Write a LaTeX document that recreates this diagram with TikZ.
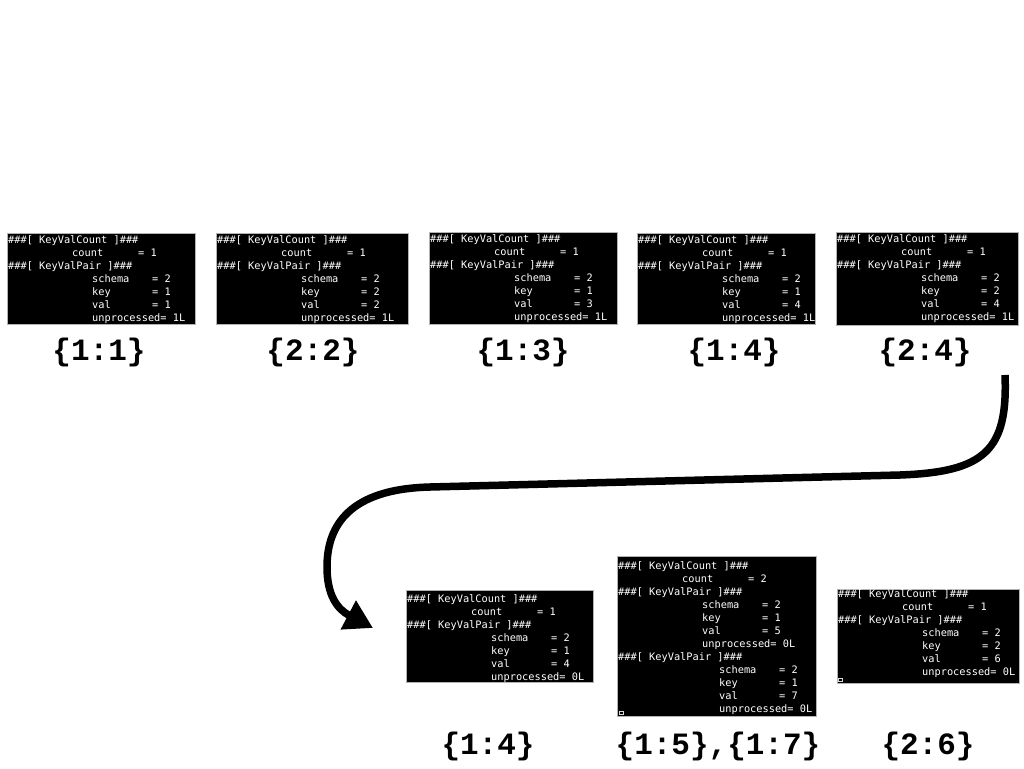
\documentclass[tikz,border=0pt]{standalone}
\usepackage{fontspec}
\usetikzlibrary{arrows.meta}
\newfontfamily\termfont{DejaVu Sans Mono}
\newfontfamily\lblfont{Liberation Mono}
\newcommand\bpos[3]{\def\bx{#1}\def\by{#2}\def\cc{#3}}
\newcommand\tline[3]{\node[tt] (#1-#2) at ({\bx+1},{\by+\cc+13*#2+4}) {#3};}
\newcommand\fld[4]{\makebox[#3pt][l]{\hspace*{#1pt}#2}#4}
\newcommand\tbox[5]{\node[termbox, minimum width=#4pt, minimum height=#5pt] (#1) at (#2,#3) {};}
\newcommand\rec[6]{%
  \tline{#1}{0}{\#\#\#[ KeyValCount ]\#\#\#}
  \tline{#1}{1}{\fld{64}{count}{130}{= #2}}
  \tline{#1}{2}{\#\#\#[ KeyValPair ]\#\#\#}
  \tline{#1}{3}{\fld{84}{schema}{144}{= #3}}
  \tline{#1}{4}{\fld{84}{key}{144}{= #4}}
  \tline{#1}{5}{\fld{84}{val}{144}{= #5}}
  \tline{#1}{6}{\hspace*{84pt}unprocessed= #6}}
\begin{document}
\begin{tikzpicture}[x=1pt,y=-1pt,
  termbox/.style={draw=gray!60, line width=0.8pt, fill=black, inner sep=0pt, anchor=north west},
  tt/.style={font=\termfont\fontsize{10.3}{12}\selectfont, text=white, inner sep=0pt, anchor=base west},
  lbl/.style={font=\lblfont\bfseries\fontsize{31}{36}\selectfont, inner sep=0pt, anchor=base},
  cursor/.style={draw=white!85!black, line width=0.6pt, minimum width=4pt, minimum height=3pt, inner sep=0pt},
  flow/.style={line width=7.5pt, -{Triangle[length=28pt,width=31pt]}}]
\fill[white] (0,0) rectangle (1024,768);
\useasboundingbox (0,0) rectangle (1024,768);

% top row
\tbox{b1}{7}{233}{188}{91}
\bpos{7}{233}{6.5}\rec{b1}{1}{2}{1}{1}{1L}
\tbox{b2}{216}{233}{192}{91}
\bpos{216}{233}{6.5}\rec{b2}{1}{2}{2}{2}{1L}
\tbox{b3}{429}{232}{188}{92}
\bpos{429}{232}{6.5}\rec{b3}{1}{2}{1}{3}{1L}
\tbox{b4}{637}{233}{178}{91}
\bpos{637}{233}{6.5}\rec{b4}{1}{2}{1}{4}{1L}
\tbox{b5}{836}{232}{182}{93}
\bpos{836}{232}{6.5}\rec{b5}{1}{2}{2}{4}{1L}

\node[lbl] (l1) at (99,360) {\{1:1\}};
\node[lbl] (l2) at (313,360) {\{2:2\}};
\node[lbl] (l3) at (523,360) {\{1:3\}};
\node[lbl] (l4) at (734,360) {\{1:4\}};
\node[lbl] (l5) at (925,360) {\{2:4\}};

% bottom row
\tbox{bA}{406}{590}{187}{92}
\bpos{406}{590}{8}\rec{bA}{1}{2}{1}{4}{0L}
\tbox{bB}{617}{556}{199}{160}
\bpos{617}{556}{9}\rec{bB}{2}{2}{1}{5}{0L}
\tline{bB}{7}{\#\#\#[ KeyValPair ]\#\#\#}
\tline{bB}{8}{\fld{101}{schema}{161}{= 2}}
\tline{bB}{9}{\fld{101}{key}{161}{= 1}}
\tline{bB}{10}{\fld{101}{val}{161}{= 7}}
\tline{bB}{11}{\hspace*{101pt}unprocessed= 0L}
\node[cursor] (cB) at (621,713) {};
\tbox{bC}{837}{589}{182}{94}
\bpos{837}{589}{4}\rec{bC}{1}{2}{2}{6}{0L}
\node[cursor] (cC) at (840,680) {};

\node[lbl] (lA) at (488,754) {\{1:4\}};
\node[lbl] (lB) at (718,754) {\{1:5\},\{1:7\}};
\node[lbl] (lC) at (928,754) {\{2:6\}};

% flow arrow
\coordinate (aS) at (1005,375);
\coordinate (aE) at (373,628);
\draw[flow] (aS) .. controls (1008,450) and (985,472) .. (900,475)
  -- (430,487) .. controls (350,489) and (327,525) .. (327,567)
  .. controls (327,595) and (337,609) .. (aE);
\end{tikzpicture}
\end{document}
